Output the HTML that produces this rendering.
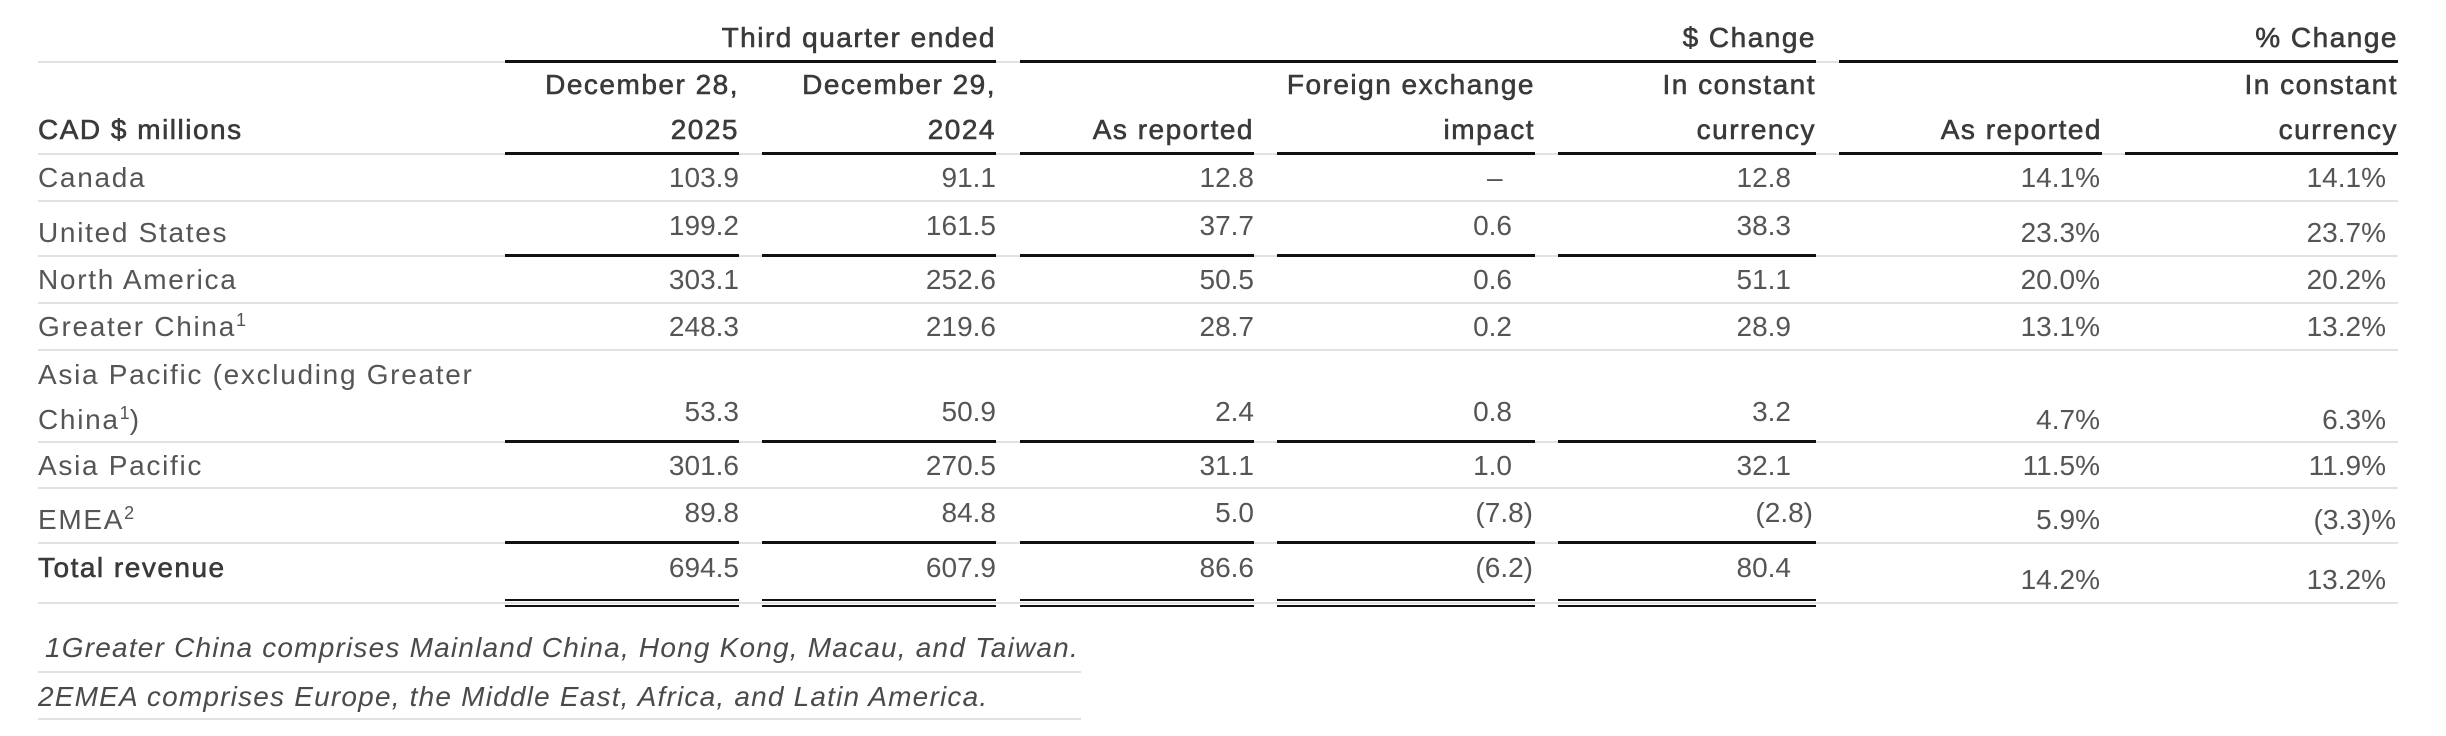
<!DOCTYPE html>
<html><head><meta charset="utf-8"><style>
html,body{margin:0;padding:0;background:#fff;}
body{width:2446px;height:736px;position:relative;overflow:hidden;font-family:"Liberation Sans",sans-serif;font-size:28px;color:#555;}
.t{position:absolute;height:34px;line-height:34px;white-space:nowrap;}
.r{text-align:right;}
.h{color:#3a3a3a;-webkit-text-stroke:0.6px #3a3a3a;letter-spacing:1.5px;}
.l{letter-spacing:1.7px;}
.g{position:absolute;height:2px;background:#e2e2e2;left:38px;width:2360px;}
.b{position:absolute;height:3px;background:#111;}
.f{font-style:italic;color:#4a4a4a;letter-spacing:1.2px;}
sup{font-size:18px;line-height:0;vertical-align:10px;letter-spacing:0;}
</style></head><body>
<div class="g" style="top:61px"></div>
<div class="b" style="top:60px;left:505px;width:491px"></div>
<div class="b" style="top:60px;left:1020px;width:796px"></div>
<div class="b" style="top:60px;left:1839px;width:559px"></div>
<div class="t r h" style="right:1450px;top:21px">Third quarter ended</div>
<div class="t r h" style="right:630px;top:21px">$ Change</div>
<div class="t r h" style="right:48px;top:21px">% Change</div>

<div class="t h" style="left:38px;top:113px">CAD $ millions</div>
<div class="t r h" style="right:1707px;top:68px">December 28,</div>
<div class="t r h" style="right:1707px;top:113px">2025</div>
<div class="t r h" style="right:1450px;top:68px">December 29,</div>
<div class="t r h" style="right:1450px;top:113px">2024</div>
<div class="t r h" style="right:1192px;top:113px">As reported</div>
<div class="t r h" style="right:911px;top:68px">Foreign exchange</div>
<div class="t r h" style="right:911px;top:113px">impact</div>
<div class="t r h" style="right:630px;top:68px">In constant</div>
<div class="t r h" style="right:630px;top:113px">currency</div>
<div class="t r h" style="right:344px;top:113px">As reported</div>
<div class="t r h" style="right:48px;top:68px">In constant</div>
<div class="t r h" style="right:48px;top:113px">currency</div>
<div class="g" style="top:153px"></div>
<div class="b" style="top:152px;left:505px;width:234px"></div>
<div class="b" style="top:152px;left:762px;width:234px"></div>
<div class="b" style="top:152px;left:1020px;width:234px"></div>
<div class="b" style="top:152px;left:1277px;width:258px"></div>
<div class="b" style="top:152px;left:1558px;width:258px"></div>
<div class="b" style="top:152px;left:1839px;width:263px"></div>
<div class="b" style="top:152px;left:2125px;width:273px"></div>

<div class="t l" style="left:38px;top:161px">Canada</div>
<div class="t r" style="right:1707px;top:161px">103.9</div>
<div class="t r" style="right:1450px;top:161px">91.1</div>
<div class="t r" style="right:1192px;top:161px">12.8</div>
<div class="t" style="left:1487px;top:161px">–</div>
<div class="t r" style="right:655px;top:161px">12.8</div>
<div class="t r" style="right:346px;top:161px">14.1%</div>
<div class="t r" style="right:60px;top:161px">14.1%</div>
<div class="g" style="top:200px"></div>

<div class="t l" style="left:38px;top:216px">United States</div>
<div class="t r" style="right:1707px;top:209px">199.2</div>
<div class="t r" style="right:1450px;top:209px">161.5</div>
<div class="t r" style="right:1192px;top:209px">37.7</div>
<div class="t r" style="right:934px;top:209px">0.6</div>
<div class="t r" style="right:655px;top:209px">38.3</div>
<div class="t r" style="right:346px;top:216px">23.3%</div>
<div class="t r" style="right:60px;top:216px">23.7%</div>
<div class="g" style="top:255px"></div>
<div class="b" style="top:254px;left:505px;width:234px"></div>
<div class="b" style="top:254px;left:762px;width:234px"></div>
<div class="b" style="top:254px;left:1020px;width:234px"></div>
<div class="b" style="top:254px;left:1277px;width:258px"></div>
<div class="b" style="top:254px;left:1558px;width:258px"></div>

<div class="t l" style="left:38px;top:263px">North America</div>
<div class="t r" style="right:1707px;top:263px">303.1</div>
<div class="t r" style="right:1450px;top:263px">252.6</div>
<div class="t r" style="right:1192px;top:263px">50.5</div>
<div class="t r" style="right:934px;top:263px">0.6</div>
<div class="t r" style="right:655px;top:263px">51.1</div>
<div class="t r" style="right:346px;top:263px">20.0%</div>
<div class="t r" style="right:60px;top:263px">20.2%</div>
<div class="g" style="top:302px"></div>

<div class="t l" style="left:38px;top:310px">Greater China<sup>1</sup></div>
<div class="t r" style="right:1707px;top:310px">248.3</div>
<div class="t r" style="right:1450px;top:310px">219.6</div>
<div class="t r" style="right:1192px;top:310px">28.7</div>
<div class="t r" style="right:934px;top:310px">0.2</div>
<div class="t r" style="right:655px;top:310px">28.9</div>
<div class="t r" style="right:346px;top:310px">13.1%</div>
<div class="t r" style="right:60px;top:310px">13.2%</div>
<div class="g" style="top:349px"></div>

<div class="t l" style="left:38px;top:358px">Asia Pacific (excluding Greater</div>
<div class="t l" style="left:38px;top:403px">China<sup>1</sup>)</div>
<div class="t r" style="right:1707px;top:395px">53.3</div>
<div class="t r" style="right:1450px;top:395px">50.9</div>
<div class="t r" style="right:1192px;top:395px">2.4</div>
<div class="t r" style="right:934px;top:395px">0.8</div>
<div class="t r" style="right:655px;top:395px">3.2</div>
<div class="t r" style="right:346px;top:403px">4.7%</div>
<div class="t r" style="right:60px;top:403px">6.3%</div>
<div class="g" style="top:441px"></div>
<div class="b" style="top:440px;left:505px;width:234px"></div>
<div class="b" style="top:440px;left:762px;width:234px"></div>
<div class="b" style="top:440px;left:1020px;width:234px"></div>
<div class="b" style="top:440px;left:1277px;width:258px"></div>
<div class="b" style="top:440px;left:1558px;width:258px"></div>

<div class="t l" style="left:38px;top:449px">Asia Pacific</div>
<div class="t r" style="right:1707px;top:449px">301.6</div>
<div class="t r" style="right:1450px;top:449px">270.5</div>
<div class="t r" style="right:1192px;top:449px">31.1</div>
<div class="t r" style="right:934px;top:449px">1.0</div>
<div class="t r" style="right:655px;top:449px">32.1</div>
<div class="t r" style="right:346px;top:449px">11.5%</div>
<div class="t r" style="right:60px;top:449px">11.9%</div>
<div class="g" style="top:487px"></div>

<div class="t l" style="left:38px;top:503px">EMEA<sup>2</sup></div>
<div class="t r" style="right:1707px;top:496px">89.8</div>
<div class="t r" style="right:1450px;top:496px">84.8</div>
<div class="t r" style="right:1192px;top:496px">5.0</div>
<div class="t r" style="right:913px;top:496px">(7.8)</div>
<div class="t r" style="right:633px;top:496px">(2.8)</div>
<div class="t r" style="right:346px;top:503px">5.9%</div>
<div class="t r" style="right:50px;top:503px">(3.3)%</div>
<div class="g" style="top:542px"></div>
<div class="b" style="top:541px;left:505px;width:234px"></div>
<div class="b" style="top:541px;left:762px;width:234px"></div>
<div class="b" style="top:541px;left:1020px;width:234px"></div>
<div class="b" style="top:541px;left:1277px;width:258px"></div>
<div class="b" style="top:541px;left:1558px;width:258px"></div>

<div class="t h" style="left:38px;top:551px">Total revenue</div>
<div class="t r" style="right:1707px;top:551px">694.5</div>
<div class="t r" style="right:1450px;top:551px">607.9</div>
<div class="t r" style="right:1192px;top:551px">86.6</div>
<div class="t r" style="right:913px;top:551px">(6.2)</div>
<div class="t r" style="right:655px;top:551px">80.4</div>
<div class="t r" style="right:346px;top:563px">14.2%</div>
<div class="t r" style="right:60px;top:563px">13.2%</div>
<div class="g" style="top:602px"></div>
<div class="b" style="top:599px;left:505px;width:234px;height:2px"></div>
<div class="b" style="top:605px;left:505px;width:234px;height:2px"></div>
<div class="b" style="top:599px;left:762px;width:234px;height:2px"></div>
<div class="b" style="top:605px;left:762px;width:234px;height:2px"></div>
<div class="b" style="top:599px;left:1020px;width:234px;height:2px"></div>
<div class="b" style="top:605px;left:1020px;width:234px;height:2px"></div>
<div class="b" style="top:599px;left:1277px;width:258px;height:2px"></div>
<div class="b" style="top:605px;left:1277px;width:258px;height:2px"></div>
<div class="b" style="top:599px;left:1558px;width:258px;height:2px"></div>
<div class="b" style="top:605px;left:1558px;width:258px;height:2px"></div>

<div class="t f" style="left:45px;top:631px">1Greater China comprises Mainland China, Hong Kong, Macau, and Taiwan.</div>
<div class="g" style="top:671px;width:1043px"></div>
<div class="t f" style="left:38px;top:680px">2EMEA comprises Europe, the Middle East, Africa, and Latin America.</div>
<div class="g" style="top:718px;width:1043px"></div>
</body></html>
